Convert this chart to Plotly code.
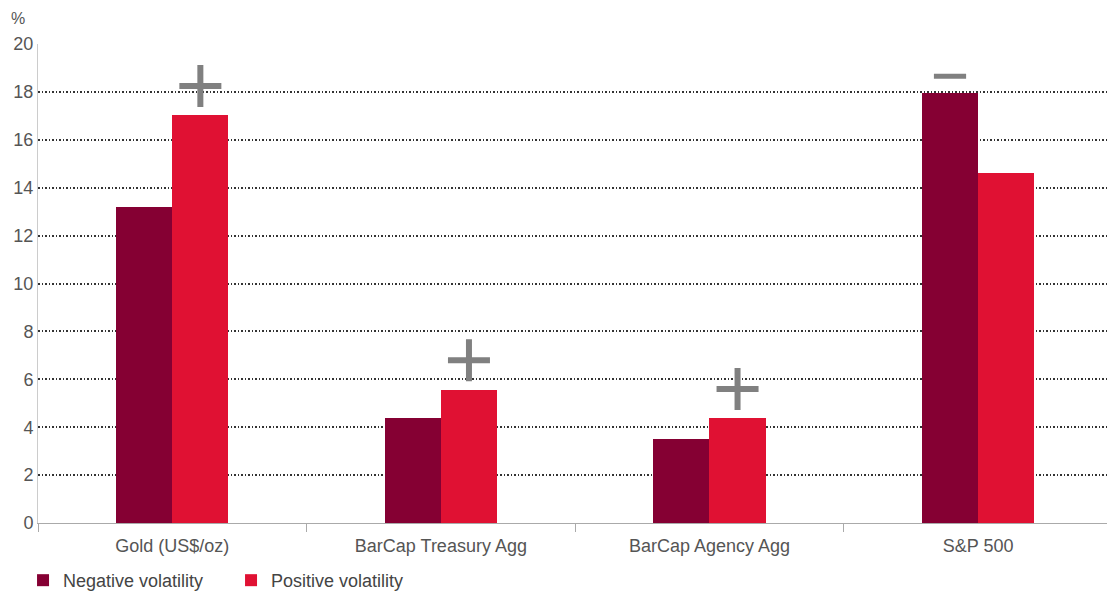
import plotly.graph_objects as go

categories = ["Gold (US$/oz)", "BarCap Treasury Agg", "BarCap Agency Agg", "S&P 500"]
negative_vol = [13.2, 4.4, 3.5, 17.95]
positive_vol = [17.05, 5.55, 4.4, 14.6]
plus_y = [18.25, 6.8, 5.6]        # "+" markers over positive bars (first three)
minus_y = [18.65]                  # "−" marker over S&P negative bar
y_ticks = list(range(0, 21, 2))

DARK = "#850033"
RED = "#E01133"
GREY = "#808080"
TXT = "#555555"

x = list(range(len(categories)))
w = 0.209

fig = go.Figure()
fig.add_trace(go.Bar(x=[i - w / 2 for i in x], y=negative_vol, width=w,
                     marker=dict(color=DARK, line=dict(width=0)),
                     name="Negative volatility"))
fig.add_trace(go.Bar(x=[i + w / 2 for i in x], y=positive_vol, width=w,
                     marker=dict(color=RED, line=dict(width=0)),
                     name="Positive volatility"))
fig.add_trace(go.Scatter(x=[i + w / 2 for i in x[:3]], y=plus_y, mode="markers",
                         marker=dict(symbol="cross-thin", size=30,
                                     line=dict(color=GREY, width=6)),
                         showlegend=False, hoverinfo="skip"))
fig.add_trace(go.Scatter(x=[3 - w / 2], y=minus_y, mode="markers",
                         marker=dict(symbol="line-ew", size=23,
                                     line=dict(color=GREY, width=5)),
                         showlegend=False, hoverinfo="skip"))

fig.update_layout(
    width=1107, height=592,
    margin=dict(l=38, r=0, t=44, b=69, autoexpand=False),
    paper_bgcolor="white", plot_bgcolor="white",
    font=dict(family="Liberation Sans, Arial, sans-serif", size=18, color=TXT),
    barmode="overlay", bargap=0,
    showlegend=True,
    legend=dict(orientation="h", x=-0.014, xanchor="left", y=-0.12, yanchor="middle",
                font=dict(size=18, color="#444444"), entrywidth=163,
                itemsizing="constant", bgcolor="rgba(0,0,0,0)"),
    xaxis=dict(range=[-0.5, 3.48], tickvals=x, ticktext=categories, ticks="",
               showgrid=False, zeroline=False, showline=True, linecolor="#aaaaaa",
               linewidth=1, tickfont=dict(size=18, color=TXT), ticklabelstandoff=6,
               minor=dict(tick0=0.5, dtick=1, ticks="outside", ticklen=8,
                          tickcolor="#aaaaaa", showgrid=False)),
    yaxis=dict(range=[0, 20], tickvals=y_ticks, showgrid=True, gridcolor="#333333",
               griddash="1.5px,2px", gridwidth=1.5, zeroline=False, showline=True,
               linecolor="#cccccc", linewidth=1, ticks="",
               tickfont=dict(size=18, color=TXT)),
    annotations=[dict(text="%", xref="paper", yref="paper", x=-0.019, y=1.054,
                      xanchor="center", yanchor="middle", showarrow=False,
                      font=dict(size=16, color=TXT))],
)

fig.write_html("out.html")
